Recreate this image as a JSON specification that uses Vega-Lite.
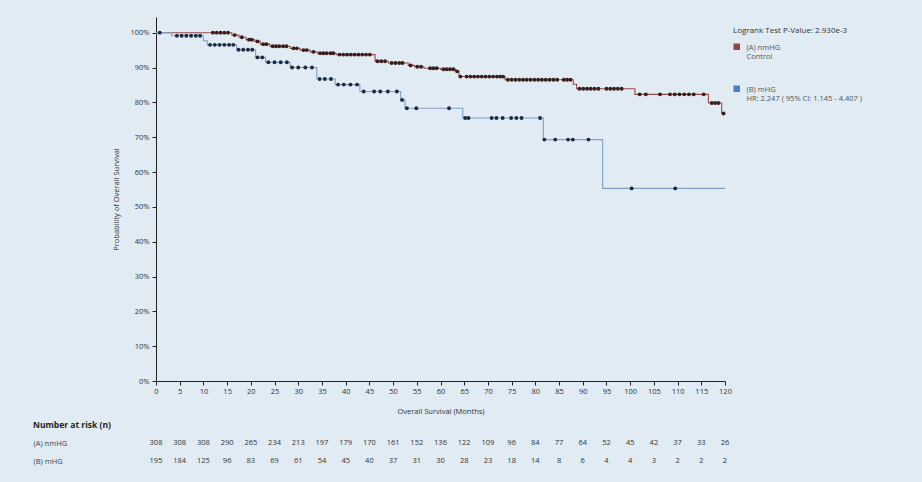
{
  "$schema": "https://vega.github.io/schema/vega-lite/v6.json",
  "background": "#e0ebf3",
  "padding": {"left": 33, "top": 17, "right": 60, "bottom": 12},
  "config": {
    "view": {"stroke": null},
    "font": "Open Sans",
    "axis": {"labelFont": "Open Sans", "titleFont": "Open Sans", "labelColor": "#333", "titleColor": "#333", "grid": false},
    "title": {"font": "Open Sans"},
    "legend": {"labelFont": "Open Sans", "titleFont": "Open Sans"}
  },
  "datasets": {
    "km": [
      {"g": "(A) nmHG", "t": 0, "s": 1, "c": 0},
      {"g": "(A) nmHG", "t": 12.0, "s": 1, "c": 1},
      {"g": "(A) nmHG", "t": 12.8, "s": 1, "c": 1},
      {"g": "(A) nmHG", "t": 13.6, "s": 1, "c": 1},
      {"g": "(A) nmHG", "t": 14.4, "s": 1, "c": 1},
      {"g": "(A) nmHG", "t": 15.2, "s": 1, "c": 1},
      {"g": "(A) nmHG", "t": 16.0, "s": 0.993, "c": 0},
      {"g": "(A) nmHG", "t": 16.6, "s": 0.993, "c": 1},
      {"g": "(A) nmHG", "t": 17.5, "s": 0.987, "c": 0},
      {"g": "(A) nmHG", "t": 18.1, "s": 0.987, "c": 1},
      {"g": "(A) nmHG", "t": 19.0, "s": 0.980, "c": 0},
      {"g": "(A) nmHG", "t": 19.6, "s": 0.980, "c": 1},
      {"g": "(A) nmHG", "t": 20.2, "s": 0.980, "c": 1},
      {"g": "(A) nmHG", "t": 20.8, "s": 0.975, "c": 0},
      {"g": "(A) nmHG", "t": 21.4, "s": 0.975, "c": 1},
      {"g": "(A) nmHG", "t": 22.0, "s": 0.967, "c": 0},
      {"g": "(A) nmHG", "t": 22.6, "s": 0.967, "c": 1},
      {"g": "(A) nmHG", "t": 23.3, "s": 0.967, "c": 1},
      {"g": "(A) nmHG", "t": 24.0, "s": 0.961, "c": 0},
      {"g": "(A) nmHG", "t": 24.6, "s": 0.961, "c": 1},
      {"g": "(A) nmHG", "t": 25.3, "s": 0.961, "c": 1},
      {"g": "(A) nmHG", "t": 26.0, "s": 0.961, "c": 1},
      {"g": "(A) nmHG", "t": 26.8, "s": 0.961, "c": 1},
      {"g": "(A) nmHG", "t": 27.5, "s": 0.961, "c": 1},
      {"g": "(A) nmHG", "t": 28.3, "s": 0.955, "c": 0},
      {"g": "(A) nmHG", "t": 29.0, "s": 0.955, "c": 1},
      {"g": "(A) nmHG", "t": 29.7, "s": 0.955, "c": 1},
      {"g": "(A) nmHG", "t": 30.4, "s": 0.950, "c": 0},
      {"g": "(A) nmHG", "t": 31.1, "s": 0.950, "c": 1},
      {"g": "(A) nmHG", "t": 31.8, "s": 0.950, "c": 1},
      {"g": "(A) nmHG", "t": 32.5, "s": 0.945, "c": 0},
      {"g": "(A) nmHG", "t": 33.2, "s": 0.945, "c": 1},
      {"g": "(A) nmHG", "t": 34.0, "s": 0.941, "c": 0},
      {"g": "(A) nmHG", "t": 34.6, "s": 0.941, "c": 1},
      {"g": "(A) nmHG", "t": 35.3, "s": 0.941, "c": 1},
      {"g": "(A) nmHG", "t": 36.0, "s": 0.941, "c": 1},
      {"g": "(A) nmHG", "t": 36.8, "s": 0.941, "c": 1},
      {"g": "(A) nmHG", "t": 37.4, "s": 0.941, "c": 1},
      {"g": "(A) nmHG", "t": 38.0, "s": 0.937, "c": 0},
      {"g": "(A) nmHG", "t": 38.7, "s": 0.937, "c": 1},
      {"g": "(A) nmHG", "t": 39.5, "s": 0.937, "c": 1},
      {"g": "(A) nmHG", "t": 40.3, "s": 0.937, "c": 1},
      {"g": "(A) nmHG", "t": 41.1, "s": 0.937, "c": 1},
      {"g": "(A) nmHG", "t": 41.9, "s": 0.937, "c": 1},
      {"g": "(A) nmHG", "t": 42.7, "s": 0.937, "c": 1},
      {"g": "(A) nmHG", "t": 43.5, "s": 0.937, "c": 1},
      {"g": "(A) nmHG", "t": 44.3, "s": 0.937, "c": 1},
      {"g": "(A) nmHG", "t": 45.1, "s": 0.937, "c": 1},
      {"g": "(A) nmHG", "t": 46.2, "s": 0.918, "c": 0},
      {"g": "(A) nmHG", "t": 46.7, "s": 0.918, "c": 1},
      {"g": "(A) nmHG", "t": 47.5, "s": 0.918, "c": 1},
      {"g": "(A) nmHG", "t": 48.3, "s": 0.918, "c": 1},
      {"g": "(A) nmHG", "t": 49.0, "s": 0.913, "c": 0},
      {"g": "(A) nmHG", "t": 49.7, "s": 0.913, "c": 1},
      {"g": "(A) nmHG", "t": 50.5, "s": 0.913, "c": 1},
      {"g": "(A) nmHG", "t": 51.3, "s": 0.913, "c": 1},
      {"g": "(A) nmHG", "t": 52.0, "s": 0.913, "c": 1},
      {"g": "(A) nmHG", "t": 53.2, "s": 0.906, "c": 0},
      {"g": "(A) nmHG", "t": 53.7, "s": 0.906, "c": 1},
      {"g": "(A) nmHG", "t": 54.5, "s": 0.902, "c": 0},
      {"g": "(A) nmHG", "t": 55.1, "s": 0.902, "c": 1},
      {"g": "(A) nmHG", "t": 55.9, "s": 0.902, "c": 1},
      {"g": "(A) nmHG", "t": 56.5, "s": 0.898, "c": 0},
      {"g": "(A) nmHG", "t": 57.8, "s": 0.898, "c": 1},
      {"g": "(A) nmHG", "t": 58.5, "s": 0.898, "c": 1},
      {"g": "(A) nmHG", "t": 59.2, "s": 0.898, "c": 1},
      {"g": "(A) nmHG", "t": 60.0, "s": 0.895, "c": 0},
      {"g": "(A) nmHG", "t": 60.6, "s": 0.895, "c": 1},
      {"g": "(A) nmHG", "t": 61.3, "s": 0.895, "c": 1},
      {"g": "(A) nmHG", "t": 62.0, "s": 0.895, "c": 1},
      {"g": "(A) nmHG", "t": 62.7, "s": 0.895, "c": 1},
      {"g": "(A) nmHG", "t": 63.2, "s": 0.889, "c": 0},
      {"g": "(A) nmHG", "t": 63.5, "s": 0.889, "c": 1},
      {"g": "(A) nmHG", "t": 63.9, "s": 0.874, "c": 0},
      {"g": "(A) nmHG", "t": 64.2, "s": 0.874, "c": 1},
      {"g": "(A) nmHG", "t": 65.5, "s": 0.874, "c": 1},
      {"g": "(A) nmHG", "t": 66.3, "s": 0.874, "c": 1},
      {"g": "(A) nmHG", "t": 67.1, "s": 0.874, "c": 1},
      {"g": "(A) nmHG", "t": 67.9, "s": 0.874, "c": 1},
      {"g": "(A) nmHG", "t": 68.7, "s": 0.874, "c": 1},
      {"g": "(A) nmHG", "t": 69.5, "s": 0.874, "c": 1},
      {"g": "(A) nmHG", "t": 70.3, "s": 0.874, "c": 1},
      {"g": "(A) nmHG", "t": 71.1, "s": 0.874, "c": 1},
      {"g": "(A) nmHG", "t": 71.9, "s": 0.874, "c": 1},
      {"g": "(A) nmHG", "t": 72.6, "s": 0.874, "c": 1},
      {"g": "(A) nmHG", "t": 73.2, "s": 0.874, "c": 1},
      {"g": "(A) nmHG", "t": 73.6, "s": 0.865, "c": 0},
      {"g": "(A) nmHG", "t": 74.2, "s": 0.865, "c": 1},
      {"g": "(A) nmHG", "t": 75.0, "s": 0.865, "c": 1},
      {"g": "(A) nmHG", "t": 75.8, "s": 0.865, "c": 1},
      {"g": "(A) nmHG", "t": 76.6, "s": 0.865, "c": 1},
      {"g": "(A) nmHG", "t": 77.4, "s": 0.865, "c": 1},
      {"g": "(A) nmHG", "t": 78.2, "s": 0.865, "c": 1},
      {"g": "(A) nmHG", "t": 79.0, "s": 0.865, "c": 1},
      {"g": "(A) nmHG", "t": 79.8, "s": 0.865, "c": 1},
      {"g": "(A) nmHG", "t": 80.6, "s": 0.865, "c": 1},
      {"g": "(A) nmHG", "t": 81.4, "s": 0.865, "c": 1},
      {"g": "(A) nmHG", "t": 82.2, "s": 0.865, "c": 1},
      {"g": "(A) nmHG", "t": 83.0, "s": 0.865, "c": 1},
      {"g": "(A) nmHG", "t": 83.8, "s": 0.865, "c": 1},
      {"g": "(A) nmHG", "t": 84.6, "s": 0.865, "c": 1},
      {"g": "(A) nmHG", "t": 86.0, "s": 0.865, "c": 1},
      {"g": "(A) nmHG", "t": 86.7, "s": 0.865, "c": 1},
      {"g": "(A) nmHG", "t": 87.4, "s": 0.865, "c": 1},
      {"g": "(A) nmHG", "t": 88.0, "s": 0.852, "c": 0},
      {"g": "(A) nmHG", "t": 88.7, "s": 0.839, "c": 0},
      {"g": "(A) nmHG", "t": 89.3, "s": 0.839, "c": 1},
      {"g": "(A) nmHG", "t": 90.1, "s": 0.839, "c": 1},
      {"g": "(A) nmHG", "t": 90.9, "s": 0.839, "c": 1},
      {"g": "(A) nmHG", "t": 91.7, "s": 0.839, "c": 1},
      {"g": "(A) nmHG", "t": 92.5, "s": 0.839, "c": 1},
      {"g": "(A) nmHG", "t": 93.3, "s": 0.839, "c": 1},
      {"g": "(A) nmHG", "t": 95.0, "s": 0.839, "c": 1},
      {"g": "(A) nmHG", "t": 95.8, "s": 0.839, "c": 1},
      {"g": "(A) nmHG", "t": 96.6, "s": 0.839, "c": 1},
      {"g": "(A) nmHG", "t": 97.4, "s": 0.839, "c": 1},
      {"g": "(A) nmHG", "t": 98.2, "s": 0.839, "c": 1},
      {"g": "(A) nmHG", "t": 101.0, "s": 0.823, "c": 0},
      {"g": "(A) nmHG", "t": 102.0, "s": 0.823, "c": 1},
      {"g": "(A) nmHG", "t": 103.3, "s": 0.823, "c": 1},
      {"g": "(A) nmHG", "t": 106.3, "s": 0.823, "c": 1},
      {"g": "(A) nmHG", "t": 108.4, "s": 0.823, "c": 1},
      {"g": "(A) nmHG", "t": 109.4, "s": 0.823, "c": 1},
      {"g": "(A) nmHG", "t": 110.4, "s": 0.823, "c": 1},
      {"g": "(A) nmHG", "t": 111.4, "s": 0.823, "c": 1},
      {"g": "(A) nmHG", "t": 112.4, "s": 0.823, "c": 1},
      {"g": "(A) nmHG", "t": 113.4, "s": 0.823, "c": 1},
      {"g": "(A) nmHG", "t": 115.5, "s": 0.823, "c": 1},
      {"g": "(A) nmHG", "t": 116.5, "s": 0.798, "c": 0},
      {"g": "(A) nmHG", "t": 117.2, "s": 0.798, "c": 1},
      {"g": "(A) nmHG", "t": 117.9, "s": 0.798, "c": 1},
      {"g": "(A) nmHG", "t": 118.6, "s": 0.798, "c": 1},
      {"g": "(A) nmHG", "t": 119.3, "s": 0.768, "c": 0},
      {"g": "(A) nmHG", "t": 119.7, "s": 0.768, "c": 1},
      {"g": "(B) mHG", "t": 0, "s": 1, "c": 0},
      {"g": "(B) mHG", "t": 0.8, "s": 1, "c": 1},
      {"g": "(B) mHG", "t": 3.3, "s": 0.991, "c": 0},
      {"g": "(B) mHG", "t": 4.4, "s": 0.991, "c": 1},
      {"g": "(B) mHG", "t": 5.4, "s": 0.991, "c": 1},
      {"g": "(B) mHG", "t": 6.4, "s": 0.991, "c": 1},
      {"g": "(B) mHG", "t": 7.4, "s": 0.991, "c": 1},
      {"g": "(B) mHG", "t": 8.4, "s": 0.991, "c": 1},
      {"g": "(B) mHG", "t": 9.3, "s": 0.991, "c": 1},
      {"g": "(B) mHG", "t": 10.0, "s": 0.977, "c": 0},
      {"g": "(B) mHG", "t": 10.8, "s": 0.965, "c": 0},
      {"g": "(B) mHG", "t": 11.4, "s": 0.965, "c": 1},
      {"g": "(B) mHG", "t": 12.4, "s": 0.965, "c": 1},
      {"g": "(B) mHG", "t": 13.4, "s": 0.965, "c": 1},
      {"g": "(B) mHG", "t": 14.4, "s": 0.965, "c": 1},
      {"g": "(B) mHG", "t": 15.4, "s": 0.965, "c": 1},
      {"g": "(B) mHG", "t": 16.3, "s": 0.965, "c": 1},
      {"g": "(B) mHG", "t": 17.0, "s": 0.951, "c": 0},
      {"g": "(B) mHG", "t": 17.4, "s": 0.951, "c": 1},
      {"g": "(B) mHG", "t": 18.4, "s": 0.951, "c": 1},
      {"g": "(B) mHG", "t": 19.4, "s": 0.951, "c": 1},
      {"g": "(B) mHG", "t": 20.3, "s": 0.951, "c": 1},
      {"g": "(B) mHG", "t": 21.0, "s": 0.929, "c": 0},
      {"g": "(B) mHG", "t": 21.4, "s": 0.929, "c": 1},
      {"g": "(B) mHG", "t": 22.4, "s": 0.929, "c": 1},
      {"g": "(B) mHG", "t": 23.1, "s": 0.915, "c": 0},
      {"g": "(B) mHG", "t": 23.7, "s": 0.915, "c": 1},
      {"g": "(B) mHG", "t": 25.0, "s": 0.915, "c": 1},
      {"g": "(B) mHG", "t": 26.3, "s": 0.915, "c": 1},
      {"g": "(B) mHG", "t": 27.6, "s": 0.915, "c": 1},
      {"g": "(B) mHG", "t": 28.3, "s": 0.900, "c": 0},
      {"g": "(B) mHG", "t": 28.7, "s": 0.900, "c": 1},
      {"g": "(B) mHG", "t": 30.0, "s": 0.900, "c": 1},
      {"g": "(B) mHG", "t": 31.5, "s": 0.900, "c": 1},
      {"g": "(B) mHG", "t": 32.9, "s": 0.900, "c": 1},
      {"g": "(B) mHG", "t": 33.9, "s": 0.867, "c": 0},
      {"g": "(B) mHG", "t": 34.5, "s": 0.867, "c": 1},
      {"g": "(B) mHG", "t": 35.6, "s": 0.867, "c": 1},
      {"g": "(B) mHG", "t": 36.9, "s": 0.867, "c": 1},
      {"g": "(B) mHG", "t": 37.8, "s": 0.851, "c": 0},
      {"g": "(B) mHG", "t": 38.4, "s": 0.851, "c": 1},
      {"g": "(B) mHG", "t": 39.6, "s": 0.851, "c": 1},
      {"g": "(B) mHG", "t": 41.0, "s": 0.851, "c": 1},
      {"g": "(B) mHG", "t": 42.4, "s": 0.851, "c": 1},
      {"g": "(B) mHG", "t": 43.0, "s": 0.831, "c": 0},
      {"g": "(B) mHG", "t": 43.8, "s": 0.831, "c": 1},
      {"g": "(B) mHG", "t": 46.0, "s": 0.831, "c": 1},
      {"g": "(B) mHG", "t": 47.3, "s": 0.831, "c": 1},
      {"g": "(B) mHG", "t": 48.9, "s": 0.831, "c": 1},
      {"g": "(B) mHG", "t": 50.8, "s": 0.831, "c": 1},
      {"g": "(B) mHG", "t": 51.6, "s": 0.807, "c": 0},
      {"g": "(B) mHG", "t": 51.9, "s": 0.807, "c": 1},
      {"g": "(B) mHG", "t": 52.5, "s": 0.783, "c": 0},
      {"g": "(B) mHG", "t": 52.9, "s": 0.783, "c": 1},
      {"g": "(B) mHG", "t": 54.9, "s": 0.783, "c": 1},
      {"g": "(B) mHG", "t": 61.8, "s": 0.783, "c": 1},
      {"g": "(B) mHG", "t": 64.7, "s": 0.755, "c": 0},
      {"g": "(B) mHG", "t": 65.2, "s": 0.755, "c": 1},
      {"g": "(B) mHG", "t": 65.9, "s": 0.755, "c": 1},
      {"g": "(B) mHG", "t": 70.8, "s": 0.755, "c": 1},
      {"g": "(B) mHG", "t": 71.8, "s": 0.755, "c": 1},
      {"g": "(B) mHG", "t": 73.1, "s": 0.755, "c": 1},
      {"g": "(B) mHG", "t": 74.9, "s": 0.755, "c": 1},
      {"g": "(B) mHG", "t": 76.0, "s": 0.755, "c": 1},
      {"g": "(B) mHG", "t": 77.1, "s": 0.755, "c": 1},
      {"g": "(B) mHG", "t": 81.0, "s": 0.755, "c": 1},
      {"g": "(B) mHG", "t": 81.7, "s": 0.693, "c": 0},
      {"g": "(B) mHG", "t": 81.9, "s": 0.693, "c": 1},
      {"g": "(B) mHG", "t": 84.2, "s": 0.693, "c": 1},
      {"g": "(B) mHG", "t": 86.9, "s": 0.693, "c": 1},
      {"g": "(B) mHG", "t": 87.9, "s": 0.693, "c": 1},
      {"g": "(B) mHG", "t": 91.2, "s": 0.693, "c": 1},
      {"g": "(B) mHG", "t": 94.2, "s": 0.553, "c": 0},
      {"g": "(B) mHG", "t": 100.3, "s": 0.553, "c": 1},
      {"g": "(B) mHG", "t": 109.5, "s": 0.553, "c": 1},
      {"g": "(B) mHG", "t": 120.0, "s": 0.553, "c": 0}
    ],
    "risk": [
      {"g": "(A) nmHG", "t": 0, "n": 308}, {"g": "(A) nmHG", "t": 5, "n": 308}, {"g": "(A) nmHG", "t": 10, "n": 308},
      {"g": "(A) nmHG", "t": 15, "n": 290}, {"g": "(A) nmHG", "t": 20, "n": 265}, {"g": "(A) nmHG", "t": 25, "n": 234},
      {"g": "(A) nmHG", "t": 30, "n": 213}, {"g": "(A) nmHG", "t": 35, "n": 197}, {"g": "(A) nmHG", "t": 40, "n": 179},
      {"g": "(A) nmHG", "t": 45, "n": 170}, {"g": "(A) nmHG", "t": 50, "n": 161}, {"g": "(A) nmHG", "t": 55, "n": 152},
      {"g": "(A) nmHG", "t": 60, "n": 136}, {"g": "(A) nmHG", "t": 65, "n": 122}, {"g": "(A) nmHG", "t": 70, "n": 109},
      {"g": "(A) nmHG", "t": 75, "n": 96}, {"g": "(A) nmHG", "t": 80, "n": 84}, {"g": "(A) nmHG", "t": 85, "n": 77},
      {"g": "(A) nmHG", "t": 90, "n": 64}, {"g": "(A) nmHG", "t": 95, "n": 52}, {"g": "(A) nmHG", "t": 100, "n": 45},
      {"g": "(A) nmHG", "t": 105, "n": 42}, {"g": "(A) nmHG", "t": 110, "n": 37}, {"g": "(A) nmHG", "t": 115, "n": 33},
      {"g": "(A) nmHG", "t": 120, "n": 26},
      {"g": "(B) mHG", "t": 0, "n": 195}, {"g": "(B) mHG", "t": 5, "n": 184}, {"g": "(B) mHG", "t": 10, "n": 125},
      {"g": "(B) mHG", "t": 15, "n": 96}, {"g": "(B) mHG", "t": 20, "n": 83}, {"g": "(B) mHG", "t": 25, "n": 69},
      {"g": "(B) mHG", "t": 30, "n": 61}, {"g": "(B) mHG", "t": 35, "n": 54}, {"g": "(B) mHG", "t": 40, "n": 45},
      {"g": "(B) mHG", "t": 45, "n": 40}, {"g": "(B) mHG", "t": 50, "n": 37}, {"g": "(B) mHG", "t": 55, "n": 31},
      {"g": "(B) mHG", "t": 60, "n": 30}, {"g": "(B) mHG", "t": 65, "n": 28}, {"g": "(B) mHG", "t": 70, "n": 23},
      {"g": "(B) mHG", "t": 75, "n": 18}, {"g": "(B) mHG", "t": 80, "n": 14}, {"g": "(B) mHG", "t": 85, "n": 8},
      {"g": "(B) mHG", "t": 90, "n": 6}, {"g": "(B) mHG", "t": 95, "n": 4}, {"g": "(B) mHG", "t": 100, "n": 4},
      {"g": "(B) mHG", "t": 105, "n": 3}, {"g": "(B) mHG", "t": 110, "n": 2}, {"g": "(B) mHG", "t": 115, "n": 2},
      {"g": "(B) mHG", "t": 120, "n": 2}
    ]
  },
  "vconcat": [
    {
      "width": 569,
      "height": 364,
      "data": {"name": "km"},
      "encoding": {
        "x": {
          "field": "t", "type": "quantitative",
          "scale": {"domain": [0, 120], "nice": false, "zero": true},
          "axis": {
            "values": [0,5,10,15,20,25,30,35,40,45,50,55,60,65,70,75,80,85,90,95,100,105,110,115,120],
            "title": "Overall Survival (Months)", "titleFontSize": 7.5, "titleFontWeight": "normal",
            "titlePadding": 13, "labelFontSize": 7.5, "labelPadding": 2, "tickSize": 4,
            "domainColor": "#222", "tickColor": "#222", "labelFlush": false, "labelOverlap": false
          }
        },
        "y": {
          "field": "s", "type": "quantitative",
          "scale": {"domain": [0, 1.045], "nice": false},
          "axis": {
            "values": [0,0.1,0.2,0.3,0.4,0.5,0.6,0.7,0.8,0.9,1.0],
            "format": ".0%", "title": "Probability of Overall Survival",
            "titleFontSize": 7.5, "titleFontWeight": "normal", "titlePadding": 9,
            "labelFontSize": 7.5, "labelPadding": 3, "tickSize": 4, "labelOverlap": false,
            "domainColor": "#222", "tickColor": "#222"
          }
        }
      },
      "layer": [
        {
          "mark": {"type": "line", "interpolate": "step-after", "strokeWidth": 1.1},
          "encoding": {
            "color": {
              "field": "g", "type": "nominal",
              "scale": {"domain": ["(A) nmHG", "(B) mHG"], "range": ["#9c4b45", "#7fa1c6"]},
              "legend": {
                "title": "Logrank Test P-Value: 2.930e-3",
                "orient": "none", "legendX": 577, "legendY": 10,
                "titleFontSize": 8, "titleFontWeight": "normal", "titleColor": "#333", "titlePadding": 8,
                "labelFontSize": 7.5, "labelColor": "#555", "labelLineHeight": 8,
                "symbolType": "square", "symbolSize": 42, "rowPadding": 24, "labelOffset": 6,
                "labelExpr": "datum.label === '(A) nmHG' ? ['(A) nmHG', 'Control'] : ['(B) mHG', 'HR: 2.247 ( 95% CI: 1.145 - 4.407 )']",
                "encode": {
                  "symbols": {"update": {
                    "fill": [{"test": "datum.value === '(A) nmHG'", "value": "#8c4a47"}, {"value": "#4a7fc5"}],
                    "stroke": {"value": "transparent"}, "strokeWidth": {"value": 0}, "opacity": {"value": 1}
                  }},
                  "labels": {"update": {"dy": {"value": 1}}}
                }
              }
            }
          }
        },
        {
          "transform": [{"filter": "datum.c == 1"}],
          "mark": {"type": "point", "shape": "circle", "filled": true, "size": 15, "opacity": 1},
          "encoding": {
            "fill": {
              "condition": {"test": "datum.g === '(A) nmHG'", "value": "#3a1d1d"},
              "value": "#1c2b42"
            }
          }
        }
      ]
    },
    {
      "width": 569,
      "height": 36,
      "data": {"name": "risk"},
      "title": {"text": "Number at risk (n)", "anchor": "start", "fontSize": 8.5, "fontWeight": "bold", "color": "#222", "offset": 5},
      "mark": {"type": "text", "fontSize": 7.5, "color": "#333"},
      "encoding": {
        "x": {"field": "t", "type": "quantitative", "scale": {"domain": [0, 120], "nice": false}, "axis": null},
        "y": {
          "field": "g", "type": "nominal",
          "scale": {"domain": ["(A) nmHG", "(B) mHG"], "paddingInner": 0, "paddingOuter": 0},
          "axis": {"title": null, "domain": false, "ticks": false, "labelAlign": "left", "labelPadding": 123, "labelFontSize": 7.5, "labelColor": "#444"}
        },
        "text": {"field": "n", "type": "quantitative"}
      }
    }
  ],
  "spacing": 5
}
